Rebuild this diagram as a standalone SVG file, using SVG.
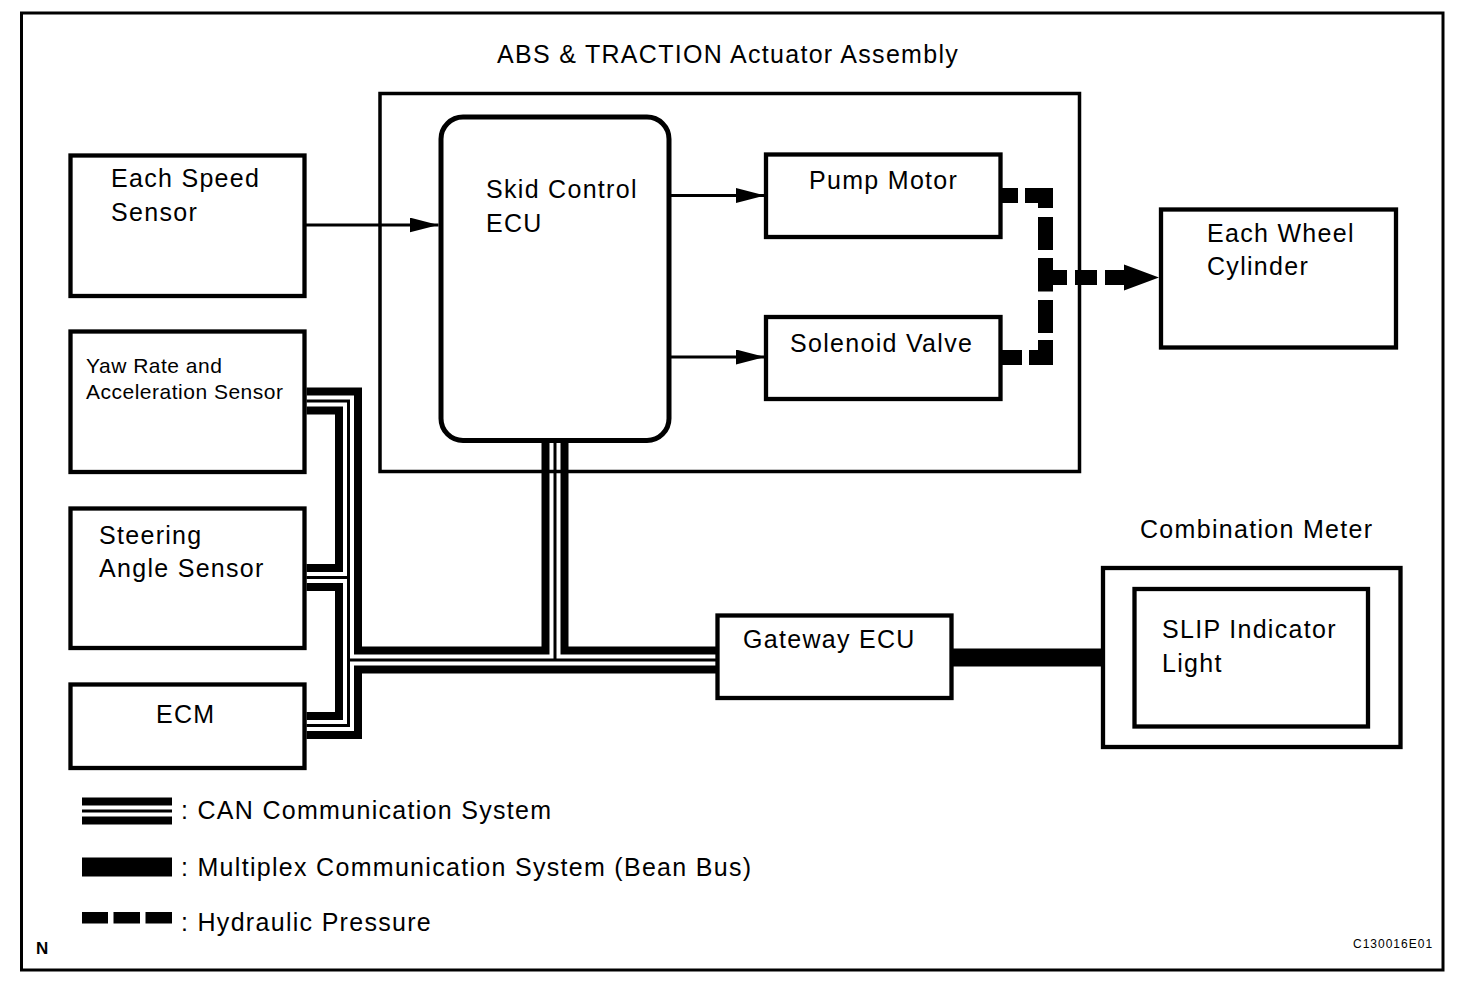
<svg xmlns="http://www.w3.org/2000/svg" xmlns:xlink="http://www.w3.org/1999/xlink" width="1472" height="984" viewBox="0 0 1472 984">
<style>
  .box { fill: none; stroke: #000; stroke-width: 4.3; }
  .t { font-family: "Liberation Sans", Arial, sans-serif; font-size: 25px; letter-spacing: 1.3px; fill: #000; }
  .ts { font-family: "Liberation Sans", Arial, sans-serif; font-size: 21px; letter-spacing: 0.5px; fill: #000; }
  .can1 { fill: none; stroke: #000; stroke-width: 27; stroke-linejoin: miter; stroke-linecap: butt; }
  .can2 { fill: none; stroke: #fff; stroke-width: 11; stroke-linejoin: miter; stroke-linecap: butt; }
  .can3 { fill: none; stroke: #000; stroke-width: 3; stroke-linejoin: miter; stroke-linecap: butt; }
  .sig { fill: none; stroke: #000; stroke-width: 3; marker-end: url(#arr); }
  .hyd { fill: none; stroke: #000; stroke-width: 15; stroke-linejoin: miter; stroke-linecap: butt; }
  .bean { fill: none; stroke: #000; stroke-width: 18; }
</style>
<defs>
  <marker id="arr" markerUnits="userSpaceOnUse" markerWidth="30" markerHeight="16" refX="29" refY="7.5" orient="auto">
    <path d="M0,0 L29,7.5 L0,15 Z" fill="#000"/>
  </marker>
  <path id="canpath" d="M306.5 401 H348.5 V725.5 H306.5 M306.5 577.5 H348.5 M348.5 660 H716 M555 442 V660"/>
  <path id="canlegend" d="M82 811 H172"/>
</defs>
<rect x="0" y="0" width="1472" height="984" fill="#fff"/>
<rect x="21.5" y="13" width="1421.5" height="957" fill="none" stroke="#000" stroke-width="3"/>

<g id="connectors">
  <g id="can-bus">
    <use xlink:href="#canpath" class="can1"/>
    <use xlink:href="#canpath" class="can2"/>
    <use xlink:href="#canpath" class="can3"/>
  </g>
  <path id="bean-bus" class="bean" d="M951 657.5 H1103"/>
  <path id="speed-to-skid" class="sig" d="M306 225 H438.5"/>
  <path id="skid-to-pump" class="sig" d="M671 195.5 H765"/>
  <path id="skid-to-solenoid" class="sig" d="M671 357 H765"/>
  <g id="hydraulic">
    <path class="hyd" d="M1002 195.5 H1018"/>
    <path class="hyd" d="M1025 195.5 H1045.5 V208"/>
    <path class="hyd" d="M1045.5 217 V250"/>
    <path class="hyd" d="M1045.5 258 V291.5 M1045.5 277.5 H1067"/>
    <path class="hyd" d="M1045.5 300 V333"/>
    <path class="hyd" d="M1045.5 340 V357.5 H1029"/>
    <path class="hyd" d="M1022 357.5 H1002"/>
    <path class="hyd" d="M1075 277.5 H1097"/>
    <path class="hyd" d="M1105 277.5 H1126"/>
    <polygon points="1124,264.5 1159,277.5 1124,290.5" fill="#000"/>
  </g>
</g>

<g id="actuator-assembly">
  <rect x="380" y="93.5" width="699.5" height="378" fill="none" stroke="#000" stroke-width="3.5"/>
  <text class="t" x="497" y="63">ABS &amp; TRACTION Actuator Assembly</text>
</g>
<g id="skid-control-ecu">
  <rect x="441" y="117" width="228" height="323.5" rx="22" ry="22" fill="none" stroke="#000" stroke-width="5"/>
  <text class="t" x="486" y="198">Skid Control</text>
  <text class="t" x="486" y="232">ECU</text>
</g>
<g id="pump-motor">
  <rect class="box" x="766" y="154.5" width="234.5" height="82.5"/>
  <text class="t" x="809" y="189">Pump Motor</text>
</g>
<g id="solenoid-valve">
  <rect class="box" x="766" y="317" width="234.5" height="82"/>
  <text class="t" x="790" y="352">Solenoid Valve</text>
</g>
<g id="each-wheel-cylinder">
  <rect class="box" x="1161" y="209.5" width="235" height="138"/>
  <text class="t" x="1207" y="242">Each Wheel</text>
  <text class="t" x="1207" y="275">Cylinder</text>
</g>
<g id="each-speed-sensor">
  <rect class="box" x="70.5" y="155.5" width="234" height="140.5"/>
  <text class="t" x="111" y="187">Each Speed</text>
  <text class="t" x="111" y="221">Sensor</text>
</g>
<g id="yaw-rate-sensor">
  <rect class="box" x="70.5" y="331.5" width="234" height="140.5"/>
  <text class="ts" x="86" y="373">Yaw Rate and</text>
  <text class="ts" x="86" y="399">Acceleration Sensor</text>
</g>
<g id="steering-angle-sensor">
  <rect class="box" x="70.5" y="508.5" width="234" height="139.5"/>
  <text class="t" x="99" y="543.5">Steering</text>
  <text class="t" x="99" y="577">Angle Sensor</text>
</g>
<g id="ecm">
  <rect class="box" x="70.5" y="684.5" width="234" height="83.5"/>
  <text class="t" x="156" y="723">ECM</text>
</g>
<g id="gateway-ecu">
  <rect class="box" x="717.5" y="615.5" width="234" height="82.5"/>
  <text class="t" x="743" y="648">Gateway ECU</text>
</g>
<g id="combination-meter">
  <rect class="box" x="1103" y="568" width="297.5" height="179"/>
  <text class="t" x="1140" y="538">Combination Meter</text>
</g>
<g id="slip-indicator-light">
  <rect class="box" x="1134.5" y="589" width="233.5" height="137.5"/>
  <text class="t" x="1162" y="638">SLIP Indicator</text>
  <text class="t" x="1162" y="672">Light</text>
</g>

<g id="legend">
  <use xlink:href="#canlegend" class="can1"/>
  <use xlink:href="#canlegend" class="can2"/>
  <use xlink:href="#canlegend" class="can3"/>
  <text class="t" x="181" y="819">: CAN Communication System</text>
  <rect x="82" y="857.5" width="90" height="19" fill="#000"/>
  <text class="t" x="181" y="876">: Multiplex Communication System (Bean Bus)</text>
  <rect x="82" y="912" width="26" height="11.5" fill="#000"/>
  <rect x="113.5" y="912" width="26.5" height="11.5" fill="#000"/>
  <rect x="145.5" y="912" width="26.5" height="11.5" fill="#000"/>
  <text class="t" x="181" y="931">: Hydraulic Pressure</text>
</g>
<text x="36" y="954" font-family="Liberation Sans, Arial, sans-serif" font-size="17" font-weight="bold" fill="#000">N</text>
<text x="1353" y="948" font-family="Liberation Sans, Arial, sans-serif" font-size="12" letter-spacing="1" fill="#000">C130016E01</text>
</svg>
